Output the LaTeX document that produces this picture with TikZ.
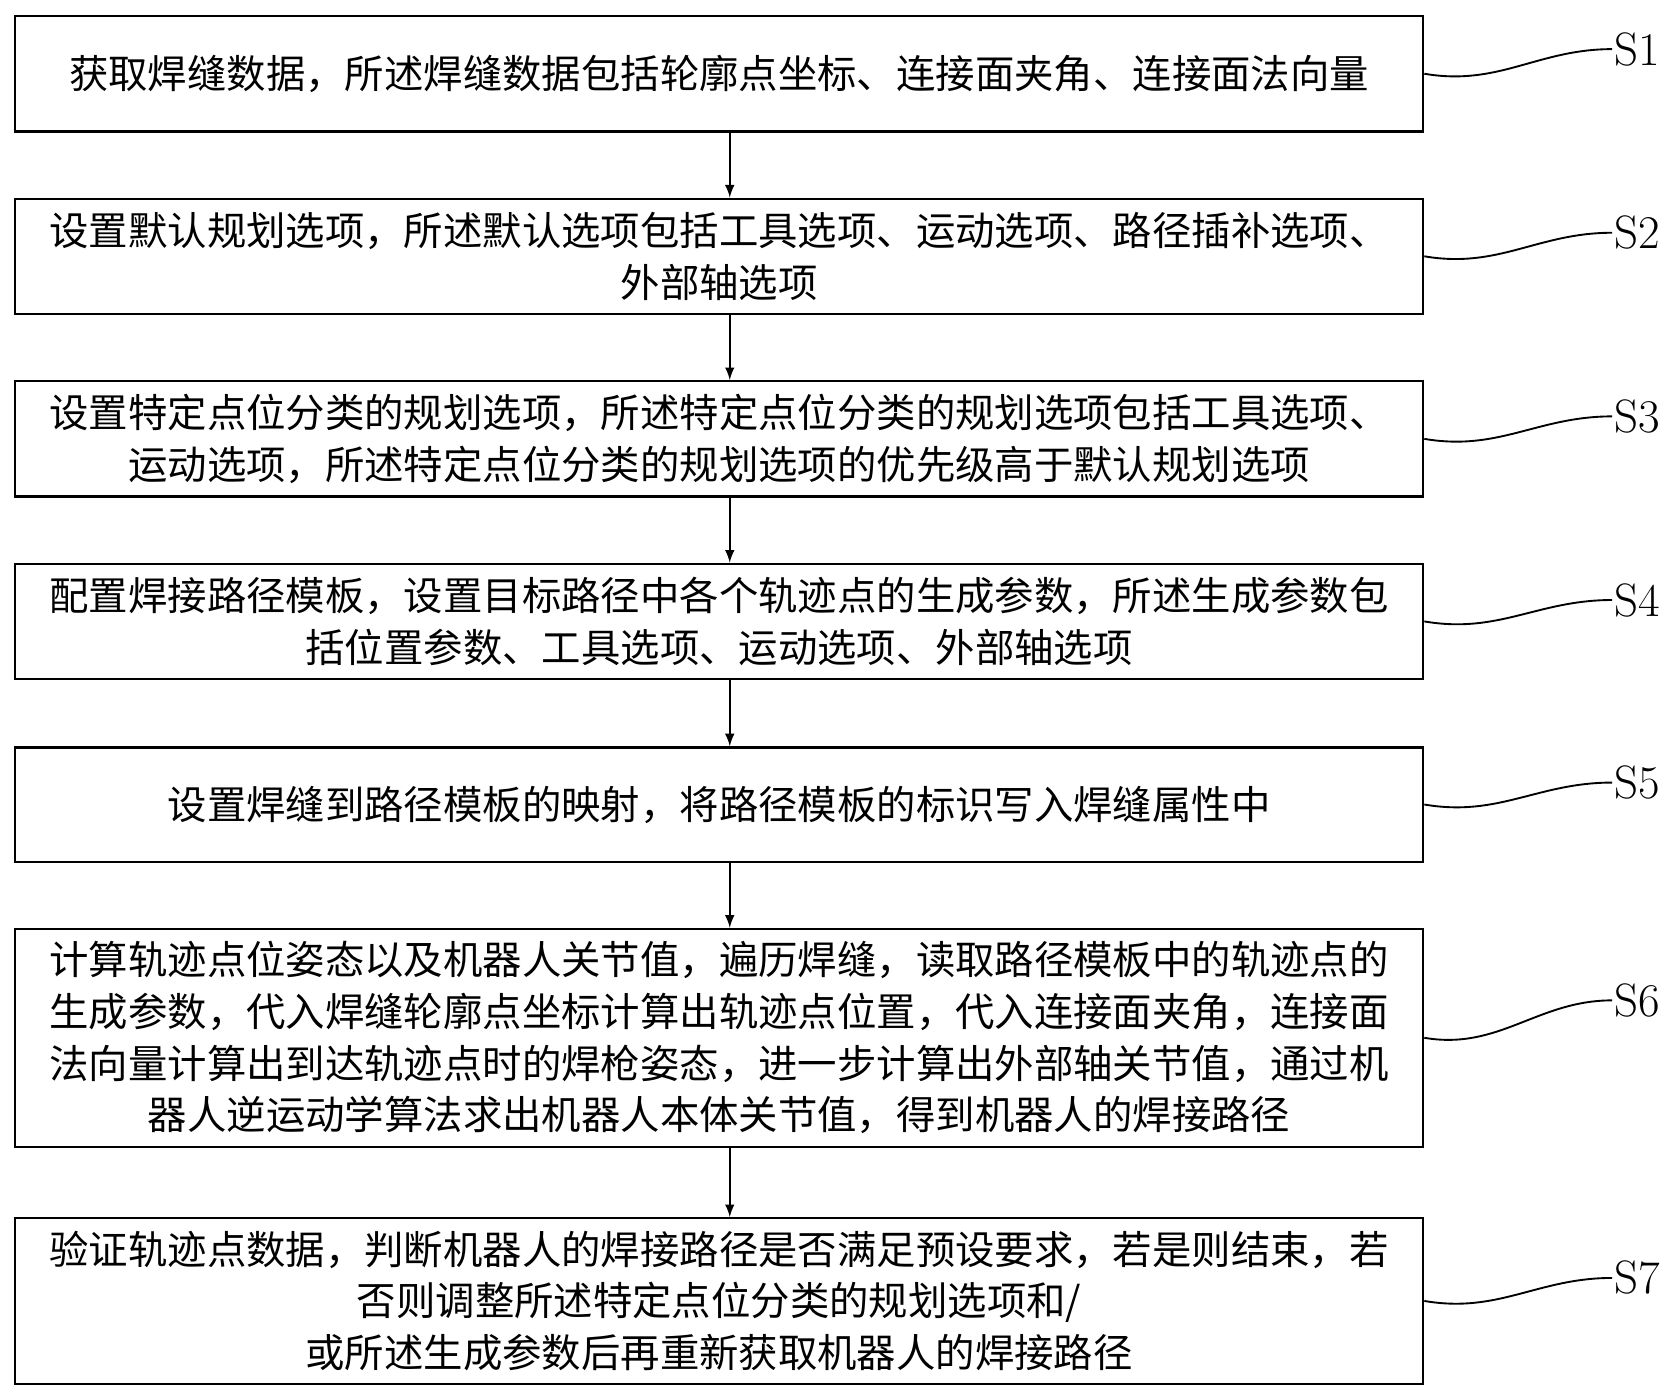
\documentclass[tikz,border=0pt]{standalone}
\usepackage{fontspec}
\newfontfamily\cjk{Noto Sans CJK SC}
\begin{document}
\begin{tikzpicture}[x=0.02cm,y=-0.02cm,
  stepbox/.style={draw,line width=1.2pt,anchor=north west,inner sep=0pt,align=center,
    font=\cjk\fontsize{21}{27.5}\selectfont},
  arr/.style={-latex,line width=1.3pt},
  lab/.style={font=\fontsize{25}{26}\selectfont,anchor=west,inner sep=1pt}]
\useasboundingbox (0,0) rectangle (1568,1306);
\def\bx#1#2#3#4{\node[stepbox,minimum width=1319*0.02cm,minimum height=#3*0.02cm] (#1) at (13,#2) {#4};}
\bx{b1}{14}{108}{获取焊缝数据，所述焊缝数据包括轮廓点坐标、连接面夹角、连接面法向量}
\bx{b2}{185}{108}{设置默认规划选项，所述默认选项包括工具选项、运动选项、路径插补选项、\\外部轴选项}
\bx{b3}{356}{108}{设置特定点位分类的规划选项，所述特定点位分类的规划选项包括工具选项、\\运动选项，所述特定点位分类的规划选项的优先级高于默认规划选项}
\bx{b4}{527}{108}{配置焊接路径模板，设置目标路径中各个轨迹点的生成参数，所述生成参数包\\括位置参数、工具选项、运动选项、外部轴选项}
\bx{b5}{699}{107}{设置焊缝到路径模板的映射，将路径模板的标识写入焊缝属性中}
\bx{b6}{869}{204}{计算轨迹点位姿态以及机器人关节值，遍历焊缝，读取路径模板中的轨迹点的\\生成参数，代入焊缝轮廓点坐标计算出轨迹点位置，代入连接面夹角，连接面\\法向量计算出到达轨迹点时的焊枪姿态，进一步计算出外部轴关节值，通过机\\器人逆运动学算法求出机器人本体关节值，得到机器人的焊接路径}
\bx{b7}{1140}{155}{验证轨迹点数据，判断机器人的焊接路径是否满足预设要求，若是则结束，若\\否则调整所述特定点位分类的规划选项和/\\或所述生成参数后再重新获取机器人的焊接路径}
\foreach \a/\b in {b1/b2,b2/b3,b3/b4,b4/b5,b5/b6,b6/b7} \draw[arr] ([xshift=10*0.02cm]\a.south) -- ([xshift=10*0.02cm]\b.north);
\foreach \n/\l/\ly in {b1/S1/46,b2/S2/218,b3/S3/390,b4/S4/562,b5/S5/733,b6/S6/937,b7/S7/1197}{
  \node[lab] (l\n) at (1510,\ly) {\l};
  \draw[line width=1pt] (\n.east) .. controls +(70,12) and +(-70,0) .. (l\n.west);
}
\end{tikzpicture}
\end{document}
